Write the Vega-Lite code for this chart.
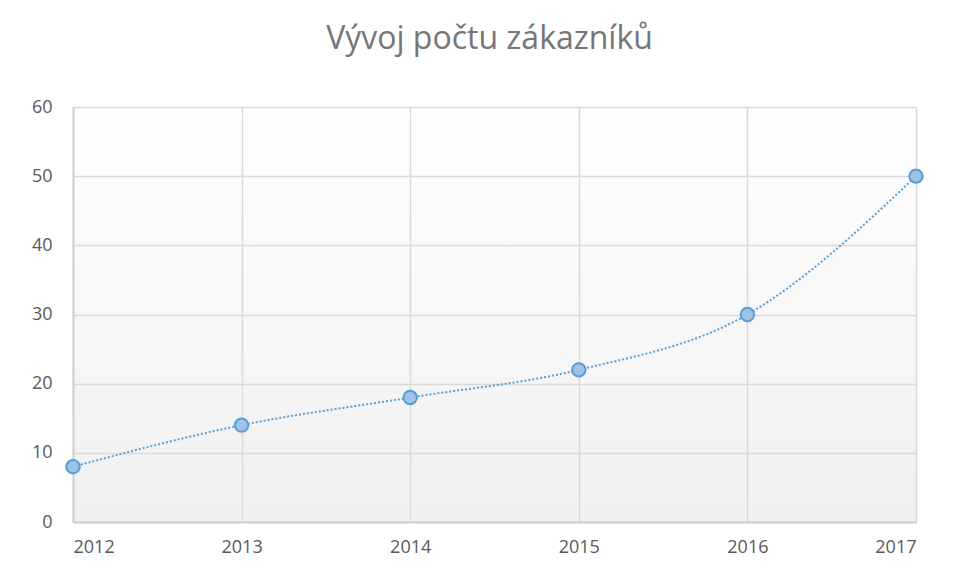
{
  "$schema": "https://vega.github.io/schema/vega-lite/v6.json",
  "width": 843,
  "height": 415,
  "autosize": "none",
  "padding": {"left": 73, "top": 107, "right": 47, "bottom": 57},
  "background": "white",
  "title": {
    "text": "Vývoj počtu zákazníků",
    "font": "Open Sans",
    "fontSize": 32,
    "fontWeight": "normal",
    "color": "#767676",
    "anchor": "middle",
    "dx": -5,
    "offset": 42
  },
  "config": {
    "view": {
      "stroke": null,
      "fill": {"gradient": "linear", "x1": 0, "y1": 0, "x2": 0, "y2": 1, "stops": [{"offset": 0, "color": "#ffffff"}, {"offset": 1, "color": "#f0f0f0"}]}
    },
    "axis": {
      "labelFont": "Open Sans",
      "labelFontSize": 18,
      "labelColor": "#595959",
      "gridColor": "#d9d9d9",
      "gridWidth": 1.5,
      "domainColor": "#d0d0d0",
      "domainWidth": 2,
      "ticks": false,
      "title": null
    }
  },
  "data": {
    "values": [
      {"year": 2012, "customers": 8},
      {"year": 2013, "customers": 14},
      {"year": 2014, "customers": 18},
      {"year": 2015, "customers": 22},
      {"year": 2016, "customers": 30},
      {"year": 2017, "customers": 50}
    ]
  },
  "encoding": {
    "x": {
      "field": "year",
      "type": "quantitative",
      "scale": {"domain": [2012, 2017], "nice": false, "zero": false},
      "axis": {"format": "d", "values": [2012, 2013, 2014, 2015, 2016, 2017], "labelPadding": 16}
    },
    "y": {
      "field": "customers",
      "type": "quantitative",
      "scale": {"domain": [0, 60], "nice": false},
      "axis": {"values": [0, 10, 20, 30, 40, 50, 60], "labelPadding": 21}
    }
  },
  "layer": [
    {
      "mark": {"type": "line", "interpolate": "monotone", "color": "#5B9BD5", "strokeWidth": 2, "strokeDash": [2, 2]}
    },
    {
      "mark": {"type": "point", "filled": true, "size": 180, "fill": "#9DC3E6", "stroke": "#5B9BD5", "strokeWidth": 2, "opacity": 1, "fillOpacity": 1}
    }
  ]
}
